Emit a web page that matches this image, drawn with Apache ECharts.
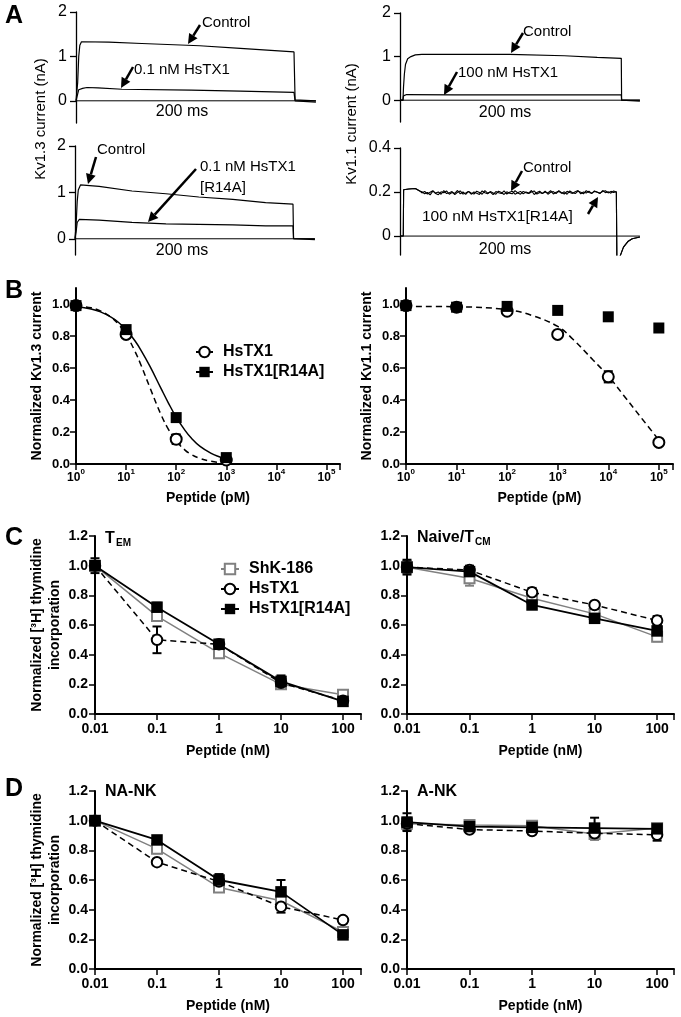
<!DOCTYPE html>
<html><head><meta charset="utf-8">
<script src="https://cdn.jsdelivr.net/npm/echarts@6.0.0/dist/echarts.min.js"></script>
<style>html,body{margin:0;padding:0;background:#fff}#c{width:681px;height:1017px}</style>
</head><body><div id="c"></div>
<script>
const FF = '"Liberation Sans", Arial, Helvetica, sans-serif';

// ---------- Panel A: current traces [time (ms), current (nA)] ----------
const a1Control = [[0,0],[1,0],[1.5,0.4],[2.5,1.0],[3.5,1.25],[5,1.33],[30,1.32],[60,1.29],[113,1.24],[150,1.18],[199,1.1],[200,0.02],[200.5,0],[219,0]];
const a1Toxin = [[0,0],[1.5,0.15],[2.5,0.25],[4,0.22],[6,0.28],[10,0.30],[20,0.29],[42,0.26],[105,0.24],[150,0.22],[199,0.19],[200,0],[200.5,-0.03],[219,-0.03]];
const a2Control = [[0,0],[2.7,0],[3.2,0.3],[4,0.6],[5,0.82],[7,0.95],[10,1.0],[14,1.04],[20,1.05],[60,1.05],[100,1.05],[150,1.02],[180,0.98],[202,0.96],[202.3,0],[219,0]];
const a2Toxin = [[0,0],[2.7,0],[3.2,0.1],[6,0.13],[50,0.12],[110,0.12],[202,0.12],[202.3,0],[219,-0.02]];
const a3Control = [[0,0],[1,0.3],[2,0.8],[3,1.05],[5,1.16],[22,1.13],[52,1.03],[83,0.97],[113,0.90],[144,0.85],[174,0.78],[199,0.745],[199.5,0],[219,0]];
const a3Toxin = [[0,0],[1,0.15],[2,0.35],[4,0.42],[22,0.40],[52,0.355],[83,0.32],[113,0.31],[144,0.30],[174,0.28],[199,0.28],[199.5,0],[219,-0.02]];
// Kv1.1 traces: onset, early plateau, then noisy steady current sampled every 2.5 ms from 20 ms, then tail
const a4Onset = [[0,0],[3,0],[3.3,0.21],[8,0.214],[14,0.216],[18,0.205]];
const a4ControlNoise = [0.196,0.203,0.191,0.199,0.206,0.193,0.188,0.201,0.197,0.205,0.19,0.198,0.194,0.207,0.192,0.2,0.189,0.203,0.196,0.191,0.204,0.198,0.19,0.206,0.195,0.2,0.188,0.202,0.197,0.193,0.205,0.191,0.199,0.204,0.19,0.197,0.203,0.192,0.2,0.195,0.207,0.189,0.198,0.204,0.193,0.2,0.196,0.206,0.191,0.199,0.203,0.194,0.201,0.19,0.205,0.197,0.193,0.204,0.199,0.192,0.206,0.198,0.195,0.203,0.2,0.193,0.207,0.197,0.201,0.195,0.205,0.2];
const a4ToxinNoise = [0.201,0.192,0.198,0.187,0.204,0.195,0.2,0.19,0.206,0.193,0.197,0.202,0.188,0.199,0.205,0.191,0.196,0.203,0.19,0.2,0.194,0.189,0.205,0.197,0.192,0.202,0.196,0.19,0.204,0.198,0.189,0.201,0.195,0.192,0.206,0.196,0.19,0.203,0.197,0.193,0.2,0.205,0.191,0.198,0.194,0.204,0.19,0.199,0.202,0.193,0.206,0.197,0.191,0.203,0.198,0.194,0.201,0.207,0.192,0.2,0.196,0.204,0.193,0.205,0.199,0.195,0.202,0.206,0.196,0.203,0.198,0.201];
const a4SampleStart = 20, a4SampleStep = 2.5;
const a4Tail = [[198,0.2],[198.3,-0.3],[201,-0.09],[204,-0.05],[208,-0.025],[212,-0.012],[219,-0.004]];
const zeroLine = [[0,0],[219,0]];

// ---------- Panel B: concentration-response ----------
const pM1 = [1, 10, 100, 1000];
const b1HsTX1 = [0.99, 0.81, 0.155, 0.025];
const b1HsTX1Err = [0.01, 0.02, 0.03, 0.01];
const b1R14A = [0.99, 0.84, 0.29, 0.04];
const b1FitX = [1,2,3,5,7,10,15,20,30,50,70,100,150,200,300,500,700,1000];
const b1FitHsTX1 = [0.99,0.976,0.958,0.918,0.874,0.81,0.705,0.616,0.476,0.307,0.217,0.144,0.087,0.06,0.035,0.017,0.01,0.007];
const b1FitR14A = [0.985,0.969,0.952,0.918,0.886,0.84,0.77,0.709,0.61,0.471,0.381,0.293,0.21,0.162,0.11,0.066,0.047,0.032];

const pM2 = [1, 10, 100, 1000, 10000, 100000];
const b2HsTX1 = [0.99, 0.98, 0.955, 0.81, 0.545, 0.135];
const b2HsTX1Err = [0.01, 0.01, 0.01, 0.015, 0.035, 0.015];
const b2R14A = [0.99, 0.98, 0.985, 0.96, 0.92, 0.85];
const b2FitX = [1,10,100,300,1000,2000,5000,10000,20000,50000,100000];
const b2FitHsTX1 = [0.985,0.983,0.965,0.93,0.86,0.78,0.65,0.55,0.43,0.27,0.15];

// ---------- Panels C, D: thymidine incorporation ----------
const nM = [0.01, 0.1, 1, 10, 100];
const temShK = [1.0, 0.66, 0.41, 0.20, 0.13];       const temShKErr = [0.02,0.03,0.02,0.03,0.02];
const temHsTX1 = [1.0, 0.50, 0.47, 0.21, 0.09];     const temHsTX1Err = [0.03,0.09,0.03,0.03,0.02];
const temR14A = [1.0, 0.72, 0.47, 0.22, 0.085];     const temR14AErr = [0.05,0.03,0.03,0.04,0.02];
const tcmShK = [0.99, 0.915, 0.78, 0.675, 0.52];    const tcmShKErr = [0.03,0.05,0.02,0.02,0.03];
const tcmHsTX1 = [0.99, 0.97, 0.82, 0.735, 0.63];   const tcmHsTX1Err = [0.04,0.03,0.03,0.02,0.03];
const tcmR14A = [0.99, 0.96, 0.735, 0.645, 0.56];   const tcmR14AErr = [0.05,0.03,0.02,0.02,0.03];
const nankShK = [1.0, 0.81, 0.55, 0.46, 0.25];      const nankShKErr = [0.01,0.03,0.03,0.03,0.02];
const nankHsTX1 = [1.0, 0.72, 0.59, 0.42, 0.33];    const nankHsTX1Err = [0.01,0.02,0.03,0.04,0.02];
const nankR14A = [1.0, 0.87, 0.60, 0.52, 0.23];     const nankR14AErr = [0.01,0.02,0.04,0.08,0.02];
const ankShK = [0.98, 0.97, 0.965, 0.91, 0.95];     const ankShKErr = [0.03,0.02,0.02,0.04,0.02];
const ankHsTX1 = [0.98, 0.94, 0.93, 0.915, 0.905];  const ankHsTX1Err = [0.04,0.02,0.02,0.03,0.04];
const ankR14A = [0.99, 0.96, 0.955, 0.95, 0.945];   const ankR14AErr = [0.06,0.02,0.02,0.07,0.02];

const yTicksA = [0, 1, 2];
const yTicksA4 = [0, 0.2, 0.4];
const yTicksB = [0, 0.2, 0.4, 0.6, 0.8, 1.0];

// ---------- helpers ----------
const zip = (xs, ys) => xs.map((x, i) => [x, ys[i]]);
const zip3 = (xs, ys, es) => xs.map((x, i) => [x, ys[i], es[i]]);
const sampled = (vals) => vals.map((v, i) => [a4SampleStart + i * a4SampleStep, v]);
const a4Control = a4Onset.concat(sampled(a4ControlNoise), a4Tail);
const a4Toxin = a4Onset.concat(sampled(a4ToxinNoise), a4Tail);
const GRAY = '#808080';

const grids = [
  {left:76, top:12, width:241, height:111},
  {left:400, top:13, width:241, height:109},
  {left:75, top:146, width:241, height:109},
  {left:400, top:148, width:241, height:107},
  {left:76, top:288, width:264, height:176},
  {left:406, top:288, width:267, height:176},
  {left:95, top:536, width:266, height:178},
  {left:407, top:536, width:267, height:178},
  {left:95, top:791, width:266, height:178},
  {left:407, top:791, width:267, height:178}
].map(g => Object.assign({outerBoundsMode:'none', containLabel:false}, g));

const xAxes = [];
const yAxes = [];
// A
const aY = [[-0.5,2,yTicksA],[-0.5,2,yTicksA],[-0.35,2,yTicksA],[-0.086,0.4,yTicksA4]];
for (let i = 0; i < 4; i++) {
  xAxes.push({type:'value', gridIndex:i, min:0, max:220, show:false});
  yAxes.push({type:'value', gridIndex:i, min:aY[i][0], max:aY[i][1],
    axisLine:{show:true, onZero:false, lineStyle:{color:'#000', width:1.3}},
    axisTick:{show:true, length:6, customValues:aY[i][2], lineStyle:{color:'#000', width:1.3}},
    axisLabel:{customValues:aY[i][2], color:'#000', fontSize:16, fontFamily:FF, margin:9,
      formatter: v => (i === 3 ? (v === 0 ? '0' : v.toFixed(1)) : String(v))},
    splitLine:{show:false}});
}
const supFmt = v => {
  const e = Math.log10(v), r = Math.round(e);
  if (Math.abs(e - r) > 1e-6) return '';
  return '{b|10}{s|' + r + '}';
};
const nmFmt = v => {
  const e = Math.log10(v), r = Math.round(e);
  if (Math.abs(e - r) > 1e-6) return '';
  return v >= 1 ? String(Math.round(v)) : String(v);
};
const axLine = {show:true, onZero:false, lineStyle:{color:'#000', width:2}};
const axTick = {show:true, length:6, lineStyle:{color:'#000', width:1.5}};
const nameStyle = {color:'#000', fontSize:14, fontWeight:'bold', fontFamily:FF};
// B
[[4, 5.27], [5, 5.28]].forEach(([g, mx]) => {
  xAxes.push({type:'log', logBase:10, gridIndex:g, min:1, max:Math.pow(10, mx),
    axisLine:axLine, axisTick:axTick, minorTick:{show:false}, splitLine:{show:false},
    axisLabel:{formatter:supFmt, color:'#000', fontFamily:FF, fontWeight:'bold', margin:4,
      rich:{b:{fontSize:12, fontWeight:'bold', fontFamily:FF, color:'#000', lineHeight:16, verticalAlign:'bottom'},
            s:{fontSize:8, fontWeight:'bold', fontFamily:FF, color:'#000', lineHeight:9, verticalAlign:'top'}}},
    name:'Peptide (pM)', nameLocation:'middle', nameGap:27, nameMoveOverlap:false, nameTextStyle:nameStyle});
  yAxes.push({type:'value', gridIndex:g, min:0, max:1.1,
    axisLine:axLine, axisTick:Object.assign({customValues:yTicksB}, axTick), splitLine:{show:false},
    axisLabel:{customValues:yTicksB, formatter:v => v.toFixed(1), color:'#000', fontSize:13, fontWeight:'bold', fontFamily:FF, margin:6},
    name: g === 4 ? 'Normalized Kv1.3 current' : 'Normalized Kv1.1 current',
    nameLocation:'middle', nameRotate:90, nameGap:32, nameMoveOverlap:false,
    nameTextStyle:{color:'#000', fontSize:14, fontWeight:'bold', fontFamily:FF}});
});
// C, D
[[6, 2.29], [7, 2.27], [8, 2.29], [9, 2.27]].forEach(([g, mx]) => {
  xAxes.push({type:'log', logBase:10, gridIndex:g, min:0.01, max:Math.pow(10, mx),
    axisLine:axLine, axisTick:axTick, minorTick:{show:false}, splitLine:{show:false},
    axisLabel:{formatter:nmFmt, color:'#000', fontSize:14, fontWeight:'bold', fontFamily:FF, margin:8},
    name:'Peptide (nM)', nameLocation:'middle', nameGap:30, nameMoveOverlap:false, nameTextStyle:nameStyle});
  const left = (g === 6 || g === 8);
  yAxes.push({type:'value', gridIndex:g, min:0, max:1.2, interval:0.2,
    axisLine:axLine, axisTick:axTick, splitLine:{show:false},
    axisLabel:{formatter:v => v.toFixed(1), color:'#000', fontSize:14, fontWeight:'bold', fontFamily:FF, margin:7},
    name: left ? 'Normalized [\u00B3H] thymidine\nincorporation' : '',
    nameLocation:'middle', nameRotate:90, nameGap:31, nameMoveOverlap:false,
    nameTextStyle:{color:'#000', fontSize:14, fontWeight:'bold', fontFamily:FF, lineHeight:18, align:'center'}});
});

// ---------- series ----------
const series = [];
function trace(g, data, w) {
  series.push({type:'line', xAxisIndex:g, yAxisIndex:g, data, symbol:'none', silent:true,
    lineStyle:{color:'#000', width:w || 1.2}, z:3});
}
trace(0, zeroLine, 1); trace(0, a1Control); trace(0, a1Toxin);
trace(1, zeroLine, 1); trace(1, a2Control); trace(1, a2Toxin);
trace(2, zeroLine, 1); trace(2, a3Control); trace(2, a3Toxin);
trace(3, zeroLine, 1); trace(3, a4Control, 1.1); trace(3, a4Toxin, 1.1);

const STY = {
  'ShK-186': {symbol:'emptyRect', symbolSize:10, itemStyle:{color:GRAY, borderColor:GRAY, borderWidth:2.5}, lineStyle:{color:GRAY, width:1.5}},
  'HsTX1': {symbol:'emptyCircle', symbolSize:10.5, itemStyle:{color:'#000', borderColor:'#000', borderWidth:2.5}, lineStyle:{color:'#000', width:1.5, type:[6,4]}},
  'HsTX1[R14A]': {symbol:'rect', symbolSize:11.5, itemStyle:{color:'#000'}, lineStyle:{color:'#000', width:1.8}}
};
function errBars(g, data, color, cap) {
  series.push({type:'custom', xAxisIndex:g, yAxisIndex:g, data, encode:{x:0, y:1}, silent:true, z:2,
    renderItem: (p, api) => {
      const x = api.value(0), y = api.value(1), e = api.value(2);
      const lo = api.coord([x, y - e]), hi = api.coord([x, y + e]);
      const w = cap || 4.5;
      const st = {stroke:color, lineWidth:2};
      return {type:'group', children:[
        {type:'line', shape:{x1:lo[0], y1:lo[1], x2:hi[0], y2:hi[1]}, style:st},
        {type:'line', shape:{x1:lo[0]-w, y1:lo[1], x2:lo[0]+w, y2:lo[1]}, style:st},
        {type:'line', shape:{x1:hi[0]-w, y1:hi[1], x2:hi[0]+w, y2:hi[1]}, style:st}]};
    }});
}
function group(g, name, ys, es, z) {
  const s = STY[name];
  const color = name === 'ShK-186' ? GRAY : '#000';
  errBars(g, zip3(nM, ys, es), color);
  series.push(Object.assign({type:'line', name, xAxisIndex:g, yAxisIndex:g, data:zip(nM, ys), silent:true, z:z}, JSON.parse(JSON.stringify(s))));
}
group(6, 'ShK-186', temShK, temShKErr, 4); group(6, 'HsTX1', temHsTX1, temHsTX1Err, 5); group(6, 'HsTX1[R14A]', temR14A, temR14AErr, 6);
group(7, 'ShK-186', tcmShK, tcmShKErr, 4); group(7, 'HsTX1', tcmHsTX1, tcmHsTX1Err, 5); group(7, 'HsTX1[R14A]', tcmR14A, tcmR14AErr, 6);
group(8, 'ShK-186', nankShK, nankShKErr, 4); group(8, 'HsTX1', nankHsTX1, nankHsTX1Err, 5); group(8, 'HsTX1[R14A]', nankR14A, nankR14AErr, 6);
group(9, 'ShK-186', ankShK, ankShKErr, 4); group(9, 'HsTX1', ankHsTX1, ankHsTX1Err, 5); group(9, 'HsTX1[R14A]', ankR14A, ankR14AErr, 6);

// B: fitted curves + points
function fit(g, xs, ys, dashed) {
  series.push({type:'line', name:'fit', xAxisIndex:g, yAxisIndex:g, data:zip(xs, ys), symbol:'none', smooth:0.4, silent:true, z:3,
    lineStyle:{color:'#000', width:1.5, type: dashed ? [6,4] : 'solid'}});
}
function bPts(g, name, xs, ys, z) {
  const s = JSON.parse(JSON.stringify(STY[name]));
  s.symbolSize = 11;
  s.lineStyle = {opacity:0, width:1};
  series.push(Object.assign({type:'line', name, xAxisIndex:g, yAxisIndex:g, data:zip(xs, ys), silent:true, z:z}, s));
}
fit(4, b1FitX, b1FitHsTX1, true); fit(4, b1FitX, b1FitR14A, false);
errBars(4, zip3(pM1, b1HsTX1, b1HsTX1Err), '#000');
bPts(4, 'HsTX1', pM1, b1HsTX1, 5); bPts(4, 'HsTX1[R14A]', pM1, b1R14A, 6);
fit(5, b2FitX, b2FitHsTX1, true);
errBars(5, zip3(pM2, b2HsTX1, b2HsTX1Err), '#000');
bPts(5, 'HsTX1', pM2, b2HsTX1, 5); bPts(5, 'HsTX1[R14A]', pM2, b2R14A, 6);

// ---------- annotations ----------
const graphic = [];
function txt(x, y, text, size, opt) {
  graphic.push({type:'text', x, y, silent:true, z:100, rotation:(opt && opt.rot) || 0,
    style:{text, fill:'#000', fontSize:size, fontFamily:FF, fontWeight:(opt && opt.bold) ? 'bold' : 'normal',
      align:(opt && opt.align) || 'left', verticalAlign:'middle'}});
}
function arrow(x1, y1, x2, y2) {
  const dx = x2 - x1, dy = y2 - y1, L = Math.hypot(dx, dy), ux = dx / L, uy = dy / L;
  const hl = 10, hw = 5;
  const bx = x2 - ux * hl, by = y2 - uy * hl;
  graphic.push({type:'line', silent:true, z:100, shape:{x1, y1, x2:bx, y2:by}, style:{stroke:'#000', lineWidth:2.5}});
  graphic.push({type:'polygon', silent:true, z:100, shape:{points:[[x2, y2], [bx - uy * hw, by + ux * hw], [bx + uy * hw, by - ux * hw]]}, style:{fill:'#000'}});
}
// panel letters
txt(5, 16, 'A', 25, {bold:true}); txt(5, 291, 'B', 25, {bold:true});
txt(5, 538, 'C', 25, {bold:true}); txt(5, 789, 'D', 25, {bold:true});
// A
txt(41, 119, 'Kv1.3 current (nA)', 15, {align:'center', rot:Math.PI / 2});
txt(352, 124, 'Kv1.1 current (nA)', 15, {align:'center', rot:Math.PI / 2});
txt(202, 23, 'Control', 15); arrow(200, 25, 188, 44);
txt(134, 70, '0.1 nM HsTX1', 15); arrow(133, 67, 121, 88);
txt(182, 112, '200 ms', 16, {align:'center'});
txt(523, 32, 'Control', 15); arrow(523, 33, 511, 53);
txt(458, 73, '100 nM HsTX1', 15); arrow(457, 72, 444, 95);
txt(505, 113, '200 ms', 16, {align:'center'});
txt(97, 150, 'Control', 15); arrow(96, 157, 88, 184);
txt(200, 167, '0.1 nM HsTX1', 15); txt(200, 188, '[R14A]', 15); arrow(196, 169, 148, 222);
txt(182, 251, '200 ms', 16, {align:'center'});
txt(523, 168, 'Control', 15); arrow(522, 171, 511, 191);
txt(422, 217, '100 nM HsTX1[R14A]', 15.5); arrow(588, 214, 598, 197);
txt(505, 250, '200 ms', 16, {align:'center'});
// C, D subtitles
txt(105, 539, 'T', 16, {bold:true}); txt(116, 543, 'EM', 10, {bold:true});
txt(417, 538, 'Naive/T', 16, {bold:true}); txt(475, 542, 'CM', 10, {bold:true});
txt(105, 792, 'NA-NK', 16, {bold:true});
txt(417, 792, 'A-NK', 16, {bold:true});

const legTxt = {fontSize:16, fontWeight:'bold', fontFamily:FF, color:'#000', padding:[0,0,0,5]};
const legend = [
  {orient:'vertical', left:190, top:339, itemWidth:17, itemHeight:13, itemGap:4, selectedMode:false, textStyle:legTxt,
    data:[{name:'HsTX1', lineStyle:{type:'solid', opacity:1, width:2, color:'#000'}},
          {name:'HsTX1[R14A]', lineStyle:{type:'solid', opacity:1, width:2, color:'#000'}}]},
  {orient:'vertical', left:215, top:556, itemWidth:18, itemHeight:13, itemGap:4, selectedMode:false, textStyle:legTxt,
    data:[{name:'ShK-186', lineStyle:{type:'solid', opacity:1, width:2, color:GRAY}},
          {name:'HsTX1', lineStyle:{type:'solid', opacity:1, width:2, color:'#000'}},
          {name:'HsTX1[R14A]', lineStyle:{type:'solid', opacity:1, width:2, color:'#000'}}]}
];

const chart = echarts.init(document.getElementById('c'), null, {renderer:'canvas'});
chart.setOption({
  animation:false, backgroundColor:'#fff',
  textStyle:{fontFamily:FF},
  grid:grids, xAxis:xAxes, yAxis:yAxes, series, legend, graphic
});
</script></body></html>
